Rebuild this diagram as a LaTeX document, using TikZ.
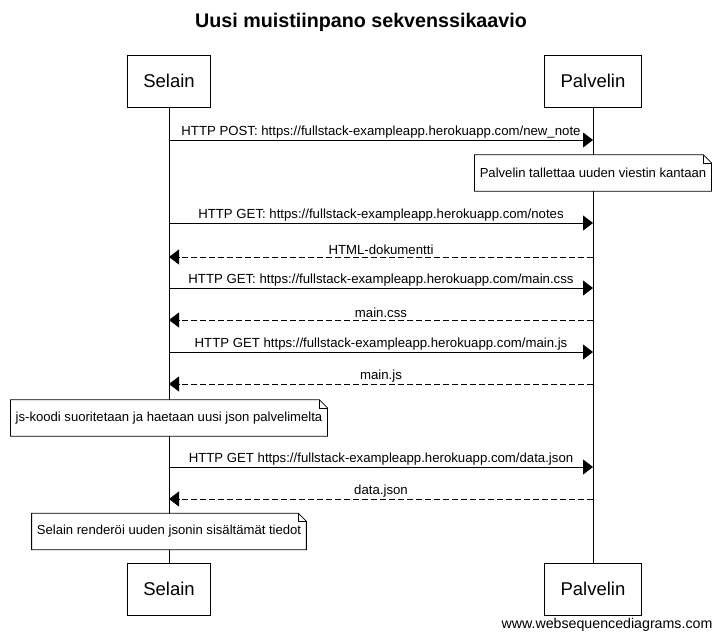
\documentclass[tikz,border=0pt]{standalone}
\usepackage{fontspec}
\setmainfont{Liberation Sans}
\usetikzlibrary{arrows.meta}

\begin{document}
\begin{tikzpicture}[x=1pt,y=-1pt,
    actor/.style={draw, line width=0.8pt, minimum height=52pt, inner xsep=16pt, font=\fontsize{18.5}{20}\selectfont},
    notebox/.style={fill=white, minimum height=36pt, inner xsep=5pt, font=\fontsize{13.1}{15}\selectfont},
    msg/.style={line width=0.8pt, -{Triangle[length=10pt,width=15pt]}},
    reply/.style={msg, dash pattern=on 6pt off 3pt},
    lbl/.style={above=0pt, inner sep=1.5pt, font=\fontsize{13.2}{15}\selectfont}]
    \useasboundingbox (0,0) rectangle (721,641);

    \node[font=\fontsize{19.7}{22}\selectfont\bfseries] (title) at (361,22) {Uusi muistiinpano sekvenssikaavio};

    % osapuolet ja elamanviivat
    \node[actor] (selain)    at (169,81)  {Selain};
    \node[actor] (palvelin)  at (593,81)  {Palvelin};
    \node[actor] (selain2)   at (169,589) {Selain};
    \node[actor] (palvelin2) at (593,589) {Palvelin};
    \draw[line width=0.8pt] (selain) -- (selain2);
    \draw[line width=0.8pt] (palvelin) -- (palvelin2);

    \foreach \i/\y in {1/140,2/223,3/257,4/288,5/320,6/352,7/384,8/467,9/499} {
        \coordinate (s\i) at (selain |- 0,\y);
        \coordinate (p\i) at (palvelin |- 0,\y);
    }

    % viestit
    \draw[msg] (s1) -- node[lbl] {HTTP POST: https://fullstack-exampleapp.herokuapp.com/new\_note} (p1);
    \draw[msg] (s2) -- node[lbl] {HTTP GET: https://fullstack-exampleapp.herokuapp.com/notes} (p2);
    \draw[reply] (p3) -- node[lbl] {HTML-dokumentti} (s3);
    \draw[msg] (s4) -- node[lbl] {HTTP GET: https://fullstack-exampleapp.herokuapp.com/main.css} (p4);
    \draw[reply] (p5) -- node[lbl] {main.css} (s5);
    \draw[msg] (s6) -- node[lbl] {HTTP GET https://fullstack-exampleapp.herokuapp.com/main.js} (p6);
    \draw[reply] (p7) -- node[lbl] {main.js} (s7);
    \draw[msg] (s8) -- node[lbl] {HTTP GET https://fullstack-exampleapp.herokuapp.com/data.json} (p8);
    \draw[reply] (p9) -- node[lbl] {data.json} (s9);

    % muistiinpanot
    \node[notebox] (note1) at (palvelin |- 0,173) {Palvelin tallettaa uuden viestin kantaan};
    \node[notebox] (note2) at (selain |- 0,418) {js-koodi suoritetaan ja haetaan uusi json palvelimelta};
    \node[notebox] (note3) at (selain |- 0,531.5) {Selain renderöi uuden jsonin sisältämät tiedot};
    \foreach \n in {note1,note2,note3} {
        \draw[line width=0.8pt] (\n.south west) -- (\n.south east) -- ([yshift=-8pt]\n.north east)
            -- ([xshift=-8pt]\n.north east) -- (\n.north west) -- cycle;
        \draw[line width=0.6pt] ([xshift=-8pt]\n.north east) |- ([yshift=-8pt]\n.north east);
    }

    \node[font=\fontsize{14.2}{16}\selectfont] (wsd) at (607,625) {www.websequencediagrams.com};
\end{tikzpicture}
\end{document}
